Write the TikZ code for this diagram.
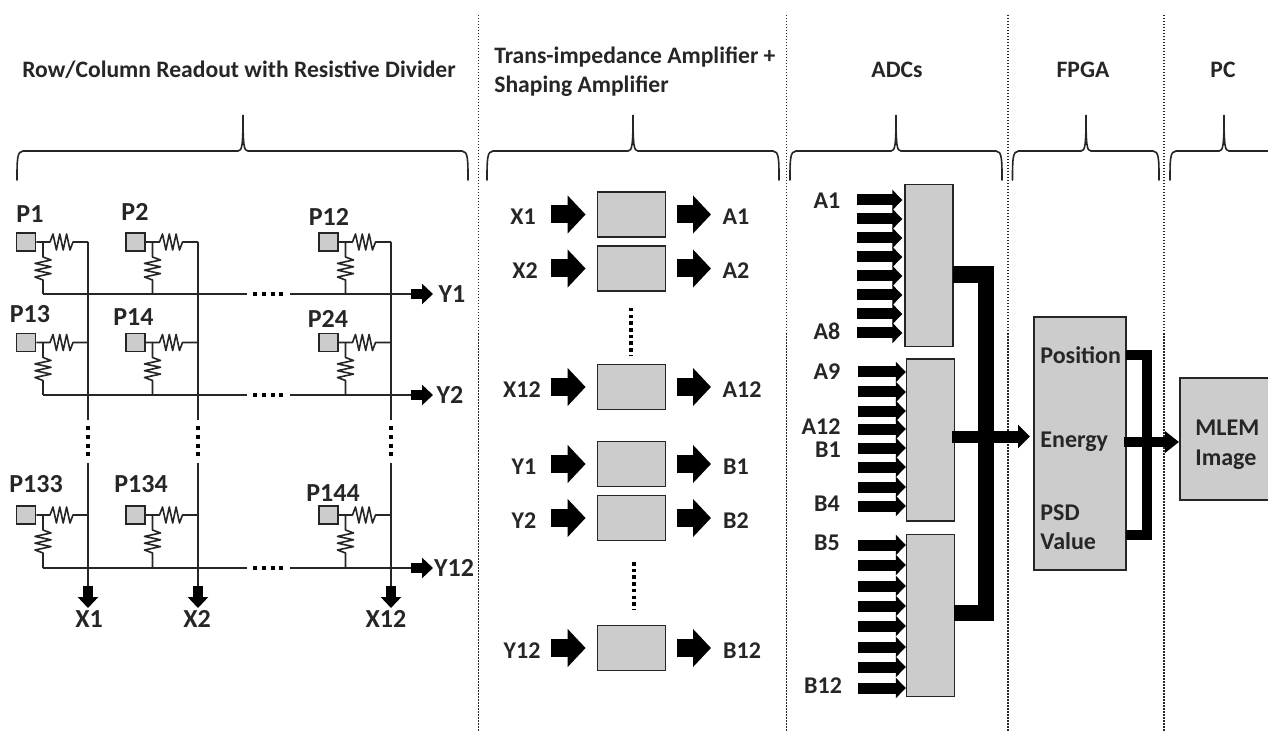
\documentclass[tikz,border=0pt]{standalone}
\usepackage{fontspec}
\setmainfont{Carlito}
\usetikzlibrary{arrows.meta}
\definecolor{boxgray}{HTML}{CCCCCC}
\definecolor{inkgray}{HTML}{262626}
\tikzset{
  wire/.style={draw=inkgray, line width=0.8pt},
  pad/.style={draw=inkgray, fill=boxgray, line width=0.9pt, inner sep=0, minimum width=9.5pt, minimum height=9pt},
  ampbox/.style={draw=inkgray, fill=boxgray, line width=0.9pt, inner sep=0, minimum width=34pt, minimum height=22.5pt},
  adcbox/.style={draw=inkgray, fill=boxgray, line width=0.7pt, inner sep=0, minimum width=24pt, minimum height=81pt},
  lbl/.style={inner sep=0, text=inkgray, font=\fontsize{13}{15}\selectfont\bfseries, anchor=mid, yshift=-1.7pt},
  sublbl/.style={lbl, font=\fontsize{12}{14}\selectfont\bfseries},
  heading/.style={lbl, font=\fontsize{11.8}{14}\selectfont\bfseries},
  bigarrow/.style={black, line width=9pt, -{Triangle[length=9pt, width=18.5pt]}},
  adcarrow/.style={black, line width=5.5pt, -{Triangle[length=5pt, width=10pt]}},
  smallarrow/.style={black, line width=5pt, -{Triangle[length=5.5pt, width=10pt]}},
  dotrun/.style={black, line width=1.75pt, dash pattern=on 1.75pt off 1.6pt},
  griddots/.style={black, line width=2pt, dash pattern=on 2pt off 2.4pt},
  divider/.style={inkgray, line width=0.6pt, dash pattern=on 0.75pt off 0.75pt},
  brace/.style={inkgray, line width=0.8pt, line cap=round},
  rail/.style={black, line width=8.25pt},
}
\begin{document}
\begin{tikzpicture}[x=0.5pt, y=-0.5pt]
      \useasboundingbox (0,0) rectangle (1268,732);
      \foreach \x in {478.5,786.5,1008,1164} {
        \draw [divider] (\x,15) -- (\x,732);
      }
      \foreach \l/\m/\r in {17/243/468,487/633/779,790/896/1002,1012.5/1086/1159} {
        \draw [brace] (\l,180) .. controls (\l,160) and (\l,151) .. (\l+6,151) -- (\m-5,151)
          .. controls (\m-1,151) and (\m,146) .. (\m,115) .. controls (\m,146) and (\m+1,151) .. (\m+5,151)
          -- (\r-6,151) .. controls (\r,151) and (\r,160) .. (\r,180);
      }
      \draw [brace] (1170,180) .. controls (1170,160) and (1170,151) .. (1176,151) -- (1219,151)
        .. controls (1223,151) and (1224,146) .. (1224,115) .. controls (1224,146) and (1225,151) .. (1229,151)
        -- (1268,151);
      \node [heading] (rowhead) at (239,69) {Row/Column Readout with Resistive Divider};
      \node [heading, anchor=mid west] (amphead) at (494,55) {Trans-impedance Amplifier +};
      \node [heading, anchor=mid west] (shapehead) at (494,84) {Shaping Amplifier};
      \node [heading] (adchead) at (897,69) {ADCs};
      \node [heading] (fpgahead) at (1083,69) {FPGA};
      \node [heading] (pchead) at (1223,69) {PC};

      \foreach \name/\cx/\cy/\tx/\ty/\busx/\busy in {
          P1/26/242/30/214/88/294, P2/135.5/242/135/212/198/294, P12/328.5/242/329/217/391/294,
          P13/26/342.5/30/314/88/395, P14/135.5/342.5/133.5/317/198/395, P24/328.5/342.5/328/319/391/395,
          P133/26/515/36/484/88/568, P134/135.5/515/141/484/198/568, P144/328.5/515/333/493/391/568} {
        \node [pad] (\name) at (\cx,\cy) {};
        \node [lbl] (\name t) at (\tx,\ty) {\name};
        \coordinate (\name j) at (\cx+17,\cy);
        \coordinate (\name v) at (\busx,\cy);
        \coordinate (\name e) at (\cx+17,\busy);
        \draw [wire, line join=round] (\name) -- (\cx+24,\cy) -- ++(3,-8) -- ++(3.4,16) -- ++(3.4,-16) -- ++(3.4,16)
          -- ++(3.4,-16) -- ++(3.4,16) -- ++(3,-8) -- (\name v);
        \draw [wire, line join=round] (\name j) -- (\cx+17,\cy+15) -- ++(8,3) -- ++(-16,3.4) -- ++(16,3.4) -- ++(-16,3.4)
          -- ++(16,3.4) -- ++(-16,3.4) -- ++(8,3) -- (\name e);
      }

      \foreach \first/\lab/\ly/\lx in {P1/Y1/294/452,P13/Y2/395/450,P133/Y12/568/454} {
        \node [lbl] (\lab) at (\lx,\ly) {\lab};
        \coordinate (\lab gl) at (247,\ly);
        \coordinate (\lab gr) at (290,\ly);
        \coordinate (\lab a) at (411,\ly);
        \coordinate (\lab b) at (433,\ly);
        \draw [wire] (\first e) -- (\lab gl);
        \draw [wire] (\lab gr) -- (\lab a);
        \draw [griddots] (253,\ly) -- (283,\ly);
        \draw [smallarrow] (\lab a) -- (\lab b);
      }
      \foreach \first/\lab/\bx/\lx in {P1/X1/88/89,P2/X2/198/197,P12/X12/391/386} {
        \node [lbl] (\lab) at (\lx,619) {\lab};
        \coordinate (\lab gt) at (\bx,420);
        \coordinate (\lab gb) at (\bx,463);
        \coordinate (\lab a) at (\bx,586);
        \coordinate (\lab b) at (\bx,608);
        \draw [wire] (\first v) -- (\lab gt);
        \draw [wire] (\lab gb) -- (\lab a);
        \draw [griddots] (\bx,426) -- (\bx,456);
        \draw [smallarrow] (\lab a) -- (\lab b);
      }

      \foreach \inl/\inx/\outl/\outx/\y in {X1/523/A1/736/214.5,X2/525/A2/736/268.5,X12/522/A12/742/387,
          Y1/524/B1/736/464,Y2/524/B2/736/518,Y12/522/B12/742/648} {
        \node [ampbox] (amp\inl) at (631.5,\y) {};
        \node [sublbl] (in\inl) at (\inx,\y+2) {\inl};
        \node [sublbl] (out\outl) at (\outx,\y+2) {\outl};
        \coordinate (src\inl) at (551,\y);
        \coordinate (dst\outl) at (711,\y);
        \draw [bigarrow, shorten >=5.5pt] (src\inl) -- (amp\inl);
        \draw [bigarrow, shorten <=5.5pt] (amp\inl) -- (dst\outl);
      }
      \draw [dotrun] (631,308) -- (631,356);
      \draw [dotrun] (634,562) -- (634,610);

      \node [adcbox] (adca) at (929,265.5) {};
      \node [adcbox] (adcb) at (930.5,440) {};
      \node [adcbox] (adcc) at (930.5,615.5) {};
      \foreach \i/\y in {1/200,2/219,3/238,4/257,5/276,6/295,7/314,8/333} {
        \coordinate (ina\i) at (857,\y);
        \draw [adcarrow, shorten >=1pt] (ina\i) -- (adca.west |- ina\i);
      }
      \foreach \i/\y in {1/372,2/392,3/411,4/429,5/448,6/467,7/487,8/506} {
        \coordinate (inb\i) at (858,\y);
        \draw [adcarrow] (inb\i) -- (adcb.west |- inb\i);
      }
      \foreach \i/\y in {1/545,2/565,3/586,4/606,5/626,6/647,7/667,8/688} {
        \coordinate (inc\i) at (858,\y);
        \draw [adcarrow] (inc\i) -- (adcc.west |- inc\i);
      }
      \foreach \txt/\lx/\ly in {A1/827/200,A8/827/331,A9/827/371,A12/821/426,B1/828/449,B4/827/503,B5/827/542,B12/823/685} {
        \node [sublbl] (adc\txt) at (\lx,\ly) {\txt};
      }

      \node [draw=inkgray, fill=boxgray, line width=0.7pt, inner sep=0, minimum width=46pt, minimum height=126.5pt] (fpga) at (1080,443.5) {};
      \node [draw=inkgray, fill=boxgray, line width=0.7pt, inner sep=0, minimum width=47pt, minimum height=61pt] (mlem) at (1227,439) {};
      \foreach \txt/\ly in {Position/355,Energy/439,PSD/512,Value/541} {
        \node [sublbl, anchor=mid west] (fpga\txt) at (1040,\ly) {\txt};
      }
      \node [sublbl, anchor=mid west] (mlemtop) at (1195,427) {MLEM};
      \node [sublbl, anchor=mid west] (mlembot) at (1195,457) {Image};

      \coordinate (adcaout) at (953,274.5);
      \coordinate (adccout) at (954,613);
      \coordinate (railend) at (986,613);
      \coordinate (adcbout) at (952,436.5);
      \coordinate (fpgain) at (1030,436.5);
      \draw [rail] (adcaout) -| (railend) -- (adccout);
      \draw [black, line width=6pt, -{Triangle[length=6pt, width=11.5pt]}] (adcbout) -- (fpgain);

      \coordinate (posout) at (1126,355.5);
      \coordinate (psdout) at (1126,535);
      \coordinate (fpgarail) at (1146.5,535);
      \coordinate (engout) at (1124,442);
      \coordinate (mlemin) at (1179,442);
      \draw [black, line width=5pt] (posout) -| (fpgarail) -- (psdout);
      \draw [black, line width=5pt, -{Triangle[length=7pt, width=10.5pt]}] (engout) -- (mlemin);
\end{tikzpicture}
\end{document}
